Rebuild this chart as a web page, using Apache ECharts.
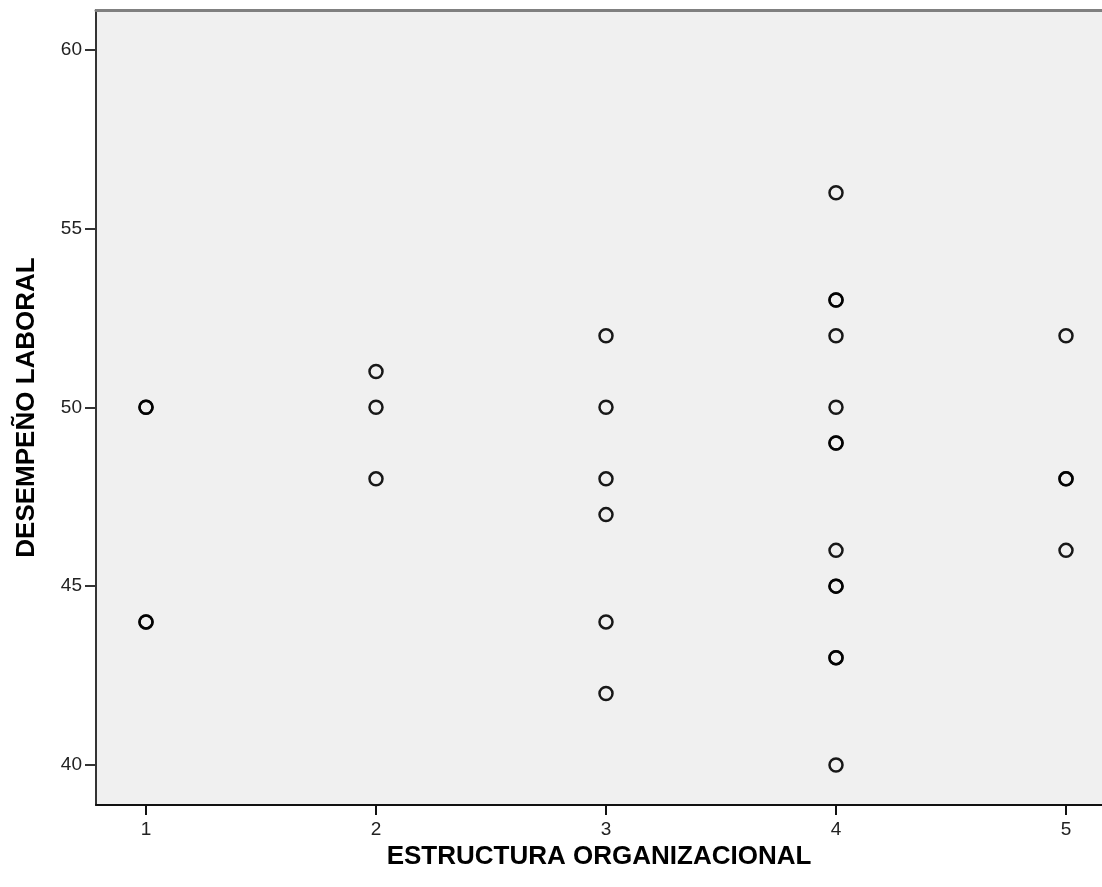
<!DOCTYPE html>
<html>
<head>
<meta charset="utf-8">
<script src="https://cdn.jsdelivr.net/npm/echarts@6/dist/echarts.min.js"></script>
<style>
html, body { margin: 0; padding: 0; background: #fff; }
#chart { width: 1102px; height: 887px; }
</style>
</head>
<body>
<div id="chart"></div>
<script>
// estructura organizacional (x) vs desempeño laboral (y), duplicados incluidos
var estructura = [1, 1, 1, 1,
    2, 2, 2,
    3, 3, 3, 3, 3, 3,
    4, 4, 4, 4, 4, 4, 4, 4, 4, 4, 4, 4, 4,
    5, 5, 5, 5];
var desempeno = [50, 50, 44, 44,
    51, 50, 48,
    52, 50, 48, 47, 44, 42,
    56, 53, 53, 52, 50, 49, 49, 46, 45, 45, 43, 43, 40,
    52, 48, 48, 46];
var xTicks = [1, 2, 3, 4, 5];
var yTicks = [40, 45, 50, 55, 60];

var font = "'Liberation Sans', Arial, sans-serif";

var points = new Array();
for (var i = 0; i < estructura.length; i++) {
    points.push([estructura[i], desempeno[i]]);
}

var chart = echarts.init(document.getElementById("chart"));
var option = {
    animation: false,
    grid: {
        left: 96, right: 0, top: 10, bottom: 82,
        show: true, backgroundColor: "#f0f0f0", borderWidth: 0
    },
    xAxis: [{
        type: "value",
        min: 0.7826, max: 5.1565,
        name: "ESTRUCTURA ORGANIZACIONAL",
        nameLocation: "middle",
        nameGap: 37,
        nameTextStyle: {fontFamily: font, fontWeight: "bold", fontSize: 26, color: "#000"},
        splitLine: {show: false},
        axisLine: {lineStyle: {color: "#111", width: 2}},
        axisTick: {show: true, length: 10, customValues: xTicks, lineStyle: {color: "#111", width: 2}},
        axisLabel: {customValues: xTicks, margin: 15, fontFamily: font, fontSize: 19, color: "#222"}
    }, {
        type: "value",
        position: "top",
        min: 0.7826, max: 5.1565,
        splitLine: {show: false},
        axisLine: {show: true, lineStyle: {color: "#808080", width: 3}},
        axisTick: {show: false},
        axisLabel: {show: false}
    }],
    yAxis: {
        type: "value",
        min: 38.88, max: 61.11,
        name: "DESEMPEÑO LABORAL",
        nameLocation: "middle",
        nameGap: 56,
        nameTextStyle: {fontFamily: font, fontWeight: "bold", fontSize: 26, color: "#000"},
        splitLine: {show: false},
        axisLine: {show: true, lineStyle: {color: "#333", width: 2}},
        axisTick: {show: true, length: 11, customValues: yTicks, lineStyle: {color: "#333", width: 2}},
        axisLabel: {customValues: yTicks, margin: 14, fontFamily: font, fontSize: 19, color: "#222"}
    },
    series: [{
        type: "scatter",
        data: points,
        symbol: "circle",
        symbolSize: 13,
        itemStyle: {color: "transparent", borderColor: "#000", borderWidth: 2.5, opacity: 0.9}
    }]
};
chart.setOption(option);
</script>
</body>
</html>
